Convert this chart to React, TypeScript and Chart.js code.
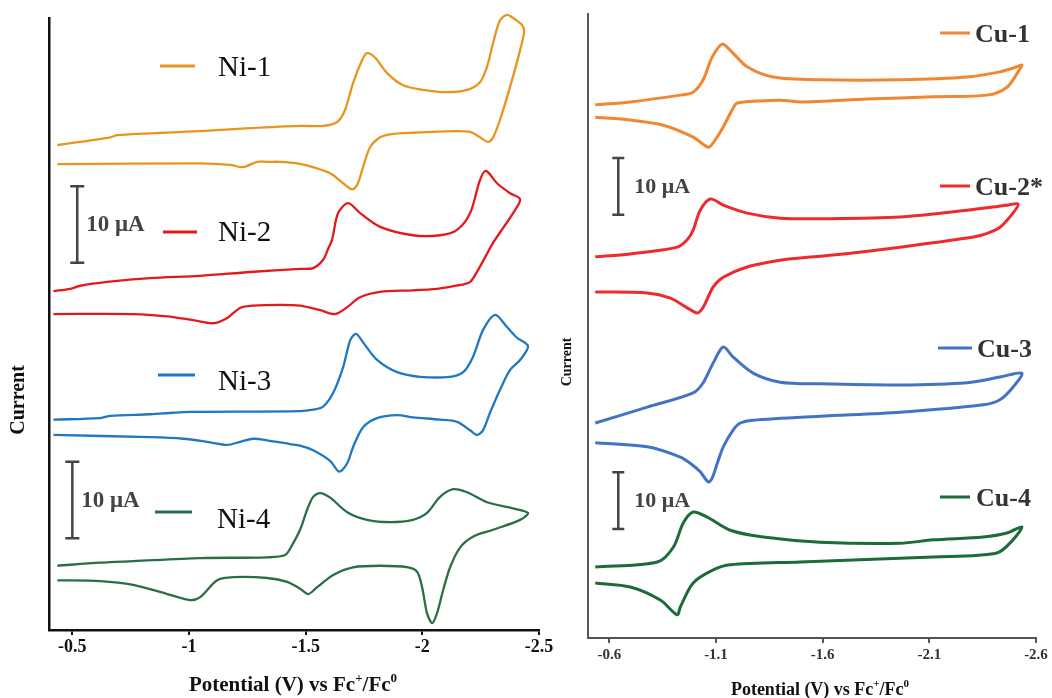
import { useEffect, useRef } from "react";
import { Chart, registerables } from "chart.js";

Chart.register(...registerables);

const PAGE_W = 1052;
const PAGE_H = 698;
const SERIF = '"Liberation Serif", "Times New Roman", Times, serif';
const SCALE_BAR_UA = 10;

// ---------- Ni complexes (left panel): potential in V vs Fc+/Fc0, current in µA ----------
const niTicks = [-0.5, -1, -1.5, -2, -2.5];

const ni1Potential = [-0.436, -0.663, -0.693, -1.048, -1.262, -1.476, -1.575, -1.635, -1.669, -1.703, -1.742, -1.763, -1.798, -1.849, -1.918, -2.003, -2.106, -2.192, -2.247, -2.277, -2.303, -2.333, -2.363, -2.389, -2.427, -2.436,
  -2.419, -2.376, -2.333, -2.303, -2.282, -2.247, -2.205, -2.132, -1.96, -1.862, -1.819, -1.776, -1.746, -1.721, -1.699, -1.661, -1.605, -1.532, -1.464, -1.391, -1.335, -1.292, -1.232, -1.177, -1.048, -0.436];
const ni1Current = [63.4, 64.4, 64.7, 65.2, 65.6, 65.9, 65.9, 66.4, 68.0, 71.5, 74.5, 75.4, 74.8, 72.8, 71.2, 70.6, 70.3, 70.6, 71.6, 73.6, 76.7, 79.7, 80.4, 80.0, 79.1, 78.2,
  75.8, 71.0, 66.7, 64.4, 63.8, 64.4, 65.1, 65.2, 65.0, 64.8, 64.4, 63.1, 60.5, 58.2, 57.6, 58.4, 59.7, 60.5, 61.0, 61.2, 61.2, 61.2, 60.5, 60.8, 61.0, 60.9];

const ni2Potential = [-0.419, -0.491, -0.534, -0.65, -0.834, -1.048, -1.262, -1.476, -1.532, -1.575, -1.596, -1.613, -1.639, -1.682, -1.733, -1.819, -1.96, -2.076, -2.149, -2.205, -2.247, -2.273, -2.32, -2.376, -2.419,
  -2.389, -2.345, -2.303, -2.247, -2.205, -2.162, -2.106, -2.063, -1.96, -1.819, -1.733, -1.678, -1.626, -1.562, -1.476, -1.391, -1.275, -1.219, -1.164, -1.104, -1.018, -0.907, -0.761, -0.419];
const ni2Current = [44.3, 44.6, 45.0, 45.5, 46.0, 46.3, 46.8, 47.2, 47.3, 48.4, 49.8, 51.0, 54.5, 55.8, 54.5, 52.7, 51.6, 51.6, 52.3, 54.5, 58.8, 60.0, 58.4, 57.1, 56.3,
  54.5, 52.5, 50.6, 47.5, 45.5, 45.1, 44.8, 44.6, 44.4, 44.2, 43.5, 42.2, 41.3, 41.8, 42.4, 42.5, 42.4, 42.1, 40.8, 40.1, 40.5, 41.0, 41.3, 41.3];

const ni3Potential = [-0.419, -0.62, -0.663, -0.834, -0.933, -1.005, -1.476, -1.532, -1.575, -1.618, -1.661, -1.691, -1.716, -1.746, -1.806, -1.892, -1.99, -2.119, -2.175, -2.217, -2.26, -2.312, -2.363, -2.406, -2.453,
  -2.419, -2.376, -2.333, -2.29, -2.26, -2.234, -2.205, -2.149, -2.076, -1.96, -1.892, -1.806, -1.746, -1.703, -1.678, -1.643, -1.605, -1.532, -1.476, -1.434, -1.335, -1.275, -1.219, -1.164, -1.078, -0.975, -0.834, -0.419];
const ni3Current = [27.5, 27.7, 28.0, 28.2, 28.4, 28.5, 28.6, 28.8, 29.2, 31.0, 34.4, 37.9, 38.7, 37.6, 35.3, 33.7, 33.1, 33.1, 33.7, 35.7, 39.2, 41.2, 39.6, 38.2, 37.1,
  35.3, 34.0, 31.4, 28.4, 26.1, 25.5, 26.1, 27.2, 27.5, 27.8, 28.1, 27.7, 26.5, 23.9, 21.8, 20.7, 22.1, 23.5, 24.1, 24.3, 24.8, 25.0, 24.6, 24.2, 24.6, 25.0, 25.2, 25.5];

const ni4Potential = [-0.436, -0.62, -0.761, -1.048, -1.335, -1.412, -1.442, -1.476, -1.506, -1.532, -1.562, -1.605, -1.678, -1.763, -1.862, -1.96, -2.02, -2.076, -2.132, -2.192, -2.277, -2.389, -2.453,
  -2.419, -2.303, -2.217, -2.162, -2.119, -2.089, -2.063, -2.042, -2.02, -1.999, -1.978, -1.939, -1.819, -1.703, -1.618, -1.549, -1.511, -1.476, -1.421, -1.335, -1.19, -1.121, -1.048, -1.005, -0.907, -0.761, -0.62, -0.436];
const ni4Current = [8.4, 8.8, 9.0, 9.4, 9.5, 9.8, 11.1, 13.1, 15.7, 17.4, 17.9, 17.3, 15.4, 14.4, 14.1, 14.4, 15.3, 17.4, 18.4, 18.0, 16.7, 15.9, 15.3,
  14.4, 13.1, 12.2, 10.8, 8.2, 5.2, 2.2, 0.9, 2.2, 5.6, 7.6, 8.2, 8.4, 8.2, 7.2, 5.6, 4.7, 5.4, 6.3, 6.8, 6.9, 6.5, 4.3, 3.9, 4.7, 5.9, 6.4, 6.5];

// ---------- Cu complexes (right panel) ----------
const cuTicks = [-0.6, -1.1, -1.6, -2.1, -2.6];

const cu1Potential = [-0.534, -0.698, -0.933, -0.993, -1.04, -1.082, -1.129, -1.167, -1.246, -1.368, -1.588, -1.963, -2.277, -2.431, -2.511, -2.534,
  -2.516, -2.464, -2.371, -2.118, -1.808, -1.495, -1.401, -1.2, -1.176, -1.134, -1.087, -1.064, -0.993, -0.853, -0.698, -0.534];
const cu1Current = [94.0, 94.5, 95.7, 96.2, 98.4, 102.4, 104.7, 103.6, 100.7, 98.9, 98.4, 98.4, 98.9, 99.8, 100.7, 101.0,
  99.8, 97.1, 95.7, 95.4, 95.0, 94.5, 94.8, 94.3, 93.1, 90.1, 87.3, 86.5, 88.3, 90.4, 91.3, 91.8];

const cu2Potential = [-0.534, -0.698, -0.918, -0.965, -0.993, -1.026, -1.073, -1.134, -1.246, -1.401, -1.588, -1.963, -2.277, -2.464, -2.516,
  -2.492, -2.431, -2.361, -2.277, -1.963, -1.649, -1.495, -1.401, -1.246, -1.134, -1.087, -1.04, -1.012, -0.965, -0.886, -0.778, -0.534];
const cu2Current = [67.2, 67.7, 68.9, 70.2, 71.9, 75.4, 77.4, 76.3, 74.9, 74.0, 73.9, 74.2, 75.4, 76.3, 76.5,
  74.9, 72.4, 71.2, 70.5, 68.9, 67.5, 67.0, 66.6, 65.4, 63.6, 61.9, 58.3, 57.3, 58.2, 59.9, 60.8, 61.0];

const cu3Potential = [-0.534, -0.778, -0.993, -1.04, -1.087, -1.134, -1.181, -1.274, -1.401, -1.588, -1.963, -2.277, -2.431, -2.534,
  -2.492, -2.431, -2.352, -1.963, -1.588, -1.274, -1.214, -1.181, -1.134, -1.106, -1.082, -1.064, -1.026, -0.979, -0.933, -0.778, -0.534];
const cu3Current = [37.9, 40.7, 43.2, 45.0, 48.5, 51.3, 49.5, 46.7, 45.1, 44.8, 44.6, 45.0, 46.0, 46.7,
  44.2, 42.0, 41.1, 39.8, 39.1, 38.4, 37.9, 36.7, 33.7, 30.8, 28.2, 27.5, 29.3, 30.8, 31.9, 33.7, 34.4];

const cu4Potential = [-0.534, -0.825, -0.9, -0.947, -0.993, -1.059, -1.167, -1.321, -1.588, -1.963, -2.118, -2.352, -2.464, -2.534,
  -2.492, -2.417, -2.118, -1.495, -1.167, -1.087, -0.993, -0.933, -0.918, -0.839, -0.698, -0.534];
const cu4Current = [12.5, 13.4, 16.0, 20.3, 22.2, 21.3, 19.0, 17.8, 16.9, 16.7, 17.3, 17.8, 18.5, 19.6,
  17.3, 15.0, 14.3, 13.4, 12.9, 12.0, 9.7, 5.5, 4.1, 6.7, 9.0, 9.7];

type Series = { label: string; color: string; potential: number[]; current: number[] };
type LegendItem = { label: string; color: string; x0: number; x1: number; lineY: number; textX: number; textY: number };
type Bar = { potential: number; base: number };

type PanelSpec = {
  left: number;
  width: number;
  area: { left: number; right: number; top: number; bottom: number };
  xMin: number;
  xMax: number;
  yMin: number;
  yMax: number;
  ticks: number[];
  series: Series[];
  lineWidth: number;
  axisColor: string;
  axisWidth: number;
  tickFontSize: number;
  tickPadding: number;
  tickColor: string;
  bars: Bar[];
  barCap: number;
  barLabelDx: number;
  barFont: string;
  legend: LegendItem[];
  legendFont: string;
  legendColor: string;
  yTitle: { x: number; y: number; size: number };
  xTitle: { x: number; y: number; size: number };
};

const toPoints = (xs: number[], ys: number[]) => xs.map((x, k) => ({ x, y: ys[k] }));

const niPanel: PanelSpec = {
  left: 0,
  width: 560,
  area: { left: 49, right: 539, top: 18, bottom: 630 },
  xMin: -2.5,
  xMax: -0.4,
  yMin: 0,
  yMax: 80,
  ticks: niTicks,
  series: [
    { label: "Ni-1", color: "#E8941F", potential: ni1Potential, current: ni1Current },
    { label: "Ni-2", color: "#E31A1C", potential: ni2Potential, current: ni2Current },
    { label: "Ni-3", color: "#1F78C1", potential: ni3Potential, current: ni3Current },
    { label: "Ni-4", color: "#2A6E46", potential: ni4Potential, current: ni4Current },
  ],
  lineWidth: 2.3,
  axisColor: "#111",
  axisWidth: 2.5,
  tickFontSize: 18,
  tickPadding: 2,
  tickColor: "#111",
  bars: [
    { potential: -0.521, base: 48 },
    { potential: -0.5, base: 12 },
  ],
  barCap: 7,
  barLabelDx: 9,
  barFont: `bold 23px ${SERIF}`,
  legend: [
    { label: "Ni-1", color: "#E8941F", x0: 160, x1: 195, lineY: 66, textX: 218, textY: 68 },
    { label: "Ni-2", color: "#E31A1C", x0: 163, x1: 197, lineY: 232, textX: 218, textY: 233 },
    { label: "Ni-3", color: "#1F78C1", x0: 158, x1: 195, lineY: 375, textX: 218, textY: 382 },
    { label: "Ni-4", color: "#2A6E46", x0: 155, x1: 192, lineY: 512, textX: 217, textY: 520 },
  ],
  legendFont: `29px ${SERIF}`,
  legendColor: "#111",
  yTitle: { x: 19, y: 400, size: 20 },
  xTitle: { x: 293, y: 686, size: 21 },
};

const cuPanel: PanelSpec = {
  left: 560,
  width: 492,
  area: { left: 28, right: 476, top: 14, bottom: 638 },
  xMin: -2.6,
  xMax: -0.5,
  yMin: 0,
  yMax: 110,
  ticks: cuTicks,
  series: [
    { label: "Cu-1", color: "#F08733", potential: cu1Potential, current: cu1Current },
    { label: "Cu-2*", color: "#EE2A2E", potential: cu2Potential, current: cu2Current },
    { label: "Cu-3", color: "#4472C4", potential: cu3Potential, current: cu3Current },
    { label: "Cu-4", color: "#1D6B3A", potential: cu4Potential, current: cu4Current },
  ],
  lineWidth: 3,
  axisColor: "#555",
  axisWidth: 2,
  tickFontSize: 15,
  tickPadding: 3,
  tickColor: "#333",
  bars: [
    { potential: -0.642, base: 74.6 },
    { potential: -0.642, base: 19.2 },
  ],
  barCap: 6,
  barLabelDx: 16,
  barFont: `bold 22px ${SERIF}`,
  legend: [
    { label: "Cu-1", color: "#F08733", x0: 940, x1: 970, lineY: 33, textX: 975, textY: 35 },
    { label: "Cu-2*", color: "#EE2A2E", x0: 940, x1: 970, lineY: 186, textX: 975, textY: 188 },
    { label: "Cu-3", color: "#4472C4", x0: 938, x1: 972, lineY: 348, textX: 977, textY: 350 },
    { label: "Cu-4", color: "#1D6B3A", x0: 940, x1: 970, lineY: 497, textX: 976, textY: 499 },
  ],
  legendFont: `bold 26px ${SERIF}`,
  legendColor: "#333",
  yTitle: { x: 567, y: 362, size: 14 },
  xTitle: { x: 820, y: 690, size: 18 },
};

// Axis title with superscript charges: "Potential (V) vs Fc+/Fc0"
function drawPotentialTitle(ctx: CanvasRenderingContext2D, cx: number, cy: number, size: number) {
  const parts = [
    { t: "Potential (V) vs Fc", sup: false },
    { t: "+", sup: true },
    { t: "/Fc", sup: false },
    { t: "0", sup: true },
  ];
  const fontFor = (sup: boolean) => `bold ${sup ? Math.round(size * 0.62) : size}px ${SERIF}`;
  const widths = parts.map((p) => {
    ctx.font = fontFor(p.sup);
    return ctx.measureText(p.t).width;
  });
  const total = widths.reduce((a, b) => a + b, 0);
  let x = cx - total / 2;
  ctx.textAlign = "left";
  ctx.textBaseline = "middle";
  parts.forEach((p, k) => {
    ctx.font = fontFor(p.sup);
    ctx.fillText(p.t, x, p.sup ? cy - size * 0.33 : cy);
    x += widths[k];
  });
}

function makeOverlay(spec: PanelSpec) {
  return {
    id: "panelOverlay",
    afterDraw(chart: any) {
      const ctx: CanvasRenderingContext2D = chart.ctx;
      const xs = chart.scales.x;
      const ys = chart.scales.y;
      const ox = spec.left;
      ctx.save();

      // 10 µA scale bars
      ctx.strokeStyle = "#444";
      ctx.fillStyle = "#444";
      ctx.lineWidth = 2.5;
      for (const b of spec.bars) {
        const px = xs.getPixelForValue(b.potential);
        const top = ys.getPixelForValue(b.base + SCALE_BAR_UA);
        const bot = ys.getPixelForValue(b.base);
        ctx.beginPath();
        ctx.moveTo(px, top);
        ctx.lineTo(px, bot);
        ctx.moveTo(px - spec.barCap, top);
        ctx.lineTo(px + spec.barCap, top);
        ctx.moveTo(px - spec.barCap, bot);
        ctx.lineTo(px + spec.barCap, bot);
        ctx.stroke();
        ctx.font = spec.barFont;
        ctx.textAlign = "left";
        ctx.textBaseline = "middle";
        ctx.fillText(`${SCALE_BAR_UA} μA`, px + spec.barLabelDx, (top + bot) / 2 + 1);
      }

      // Legend entries
      for (const item of spec.legend) {
        ctx.strokeStyle = item.color;
        ctx.lineWidth = 3;
        ctx.beginPath();
        ctx.moveTo(item.x0 - ox, item.lineY);
        ctx.lineTo(item.x1 - ox, item.lineY);
        ctx.stroke();
        ctx.fillStyle = spec.legendColor;
        ctx.font = spec.legendFont;
        ctx.textAlign = "left";
        ctx.textBaseline = "middle";
        ctx.fillText(item.label, item.textX - ox, item.textY);
      }

      // Axis titles
      ctx.fillStyle = "#111";
      ctx.save();
      ctx.translate(spec.yTitle.x - ox, spec.yTitle.y);
      ctx.rotate(-Math.PI / 2);
      ctx.font = `bold ${spec.yTitle.size}px ${SERIF}`;
      ctx.textAlign = "center";
      ctx.textBaseline = "middle";
      ctx.fillText("Current", 0, 0);
      ctx.restore();

      drawPotentialTitle(ctx, spec.xTitle.x - ox, spec.xTitle.y, spec.xTitle.size);
      ctx.restore();
    },
  };
}

function Panel({ spec }: { spec: PanelSpec }) {
  const ref = useRef<HTMLCanvasElement>(null);

  useEffect(() => {
    const canvas = ref.current;
    if (!canvas) return;
    const chart = new Chart(canvas, {
      type: "scatter",
      data: {
        datasets: spec.series.map((s) => ({
          label: s.label,
          data: toPoints(s.potential, s.current),
          showLine: true,
          borderColor: s.color,
          backgroundColor: s.color,
          borderWidth: spec.lineWidth,
          pointRadius: 0,
          tension: 0.3,
          fill: false,
          clip: false as any,
        })),
      },
      options: {
        animation: false,
        responsive: false,
        events: [],
        layout: {
          padding: {
            left: spec.area.left,
            right: spec.width - spec.area.right,
            top: spec.area.top,
            bottom: 0,
          },
        },
        plugins: {
          legend: { display: false },
          tooltip: { enabled: false },
        },
        scales: {
          x: {
            type: "linear",
            min: spec.xMin,
            max: spec.xMax,
            reverse: true,
            afterBuildTicks: (scale: any) => {
              scale.ticks = spec.ticks.map((value) => ({ value }));
            },
            afterFit: (scale: any) => {
              scale.height = PAGE_H - spec.area.bottom;
            },
            ticks: {
              autoSkip: false,
              maxRotation: 0,
              padding: spec.tickPadding,
              color: spec.tickColor,
              font: { family: SERIF, size: spec.tickFontSize, weight: "bold" },
              callback: (v: any) => String(v),
            },
            grid: {
              display: true,
              drawOnChartArea: false,
              drawTicks: true,
              tickLength: 5,
              color: spec.axisColor,
              lineWidth: 2,
            },
            border: { display: true, color: spec.axisColor, width: spec.axisWidth },
          },
          y: {
            type: "linear",
            min: spec.yMin,
            max: spec.yMax,
            afterFit: (scale: any) => {
              scale.width = 0;
            },
            ticks: { display: false },
            grid: { display: false },
            border: { display: true, color: spec.axisColor, width: spec.axisWidth },
          },
        },
      } as any,
      plugins: [makeOverlay(spec)],
    });
    return () => chart.destroy();
  }, [spec]);

  return (
    <canvas
      ref={ref}
      width={spec.width}
      height={PAGE_H}
      style={{ position: "absolute", left: spec.left, top: 0, width: spec.width, height: PAGE_H }}
    />
  );
}

export default function App() {
  return (
    <div
      style={{
        position: "fixed",
        left: 0,
        top: 0,
        width: PAGE_W,
        height: PAGE_H,
        background: "#ffffff",
        overflow: "hidden",
      }}
    >
      <Panel spec={niPanel} />
      <Panel spec={cuPanel} />
    </div>
  );
}
